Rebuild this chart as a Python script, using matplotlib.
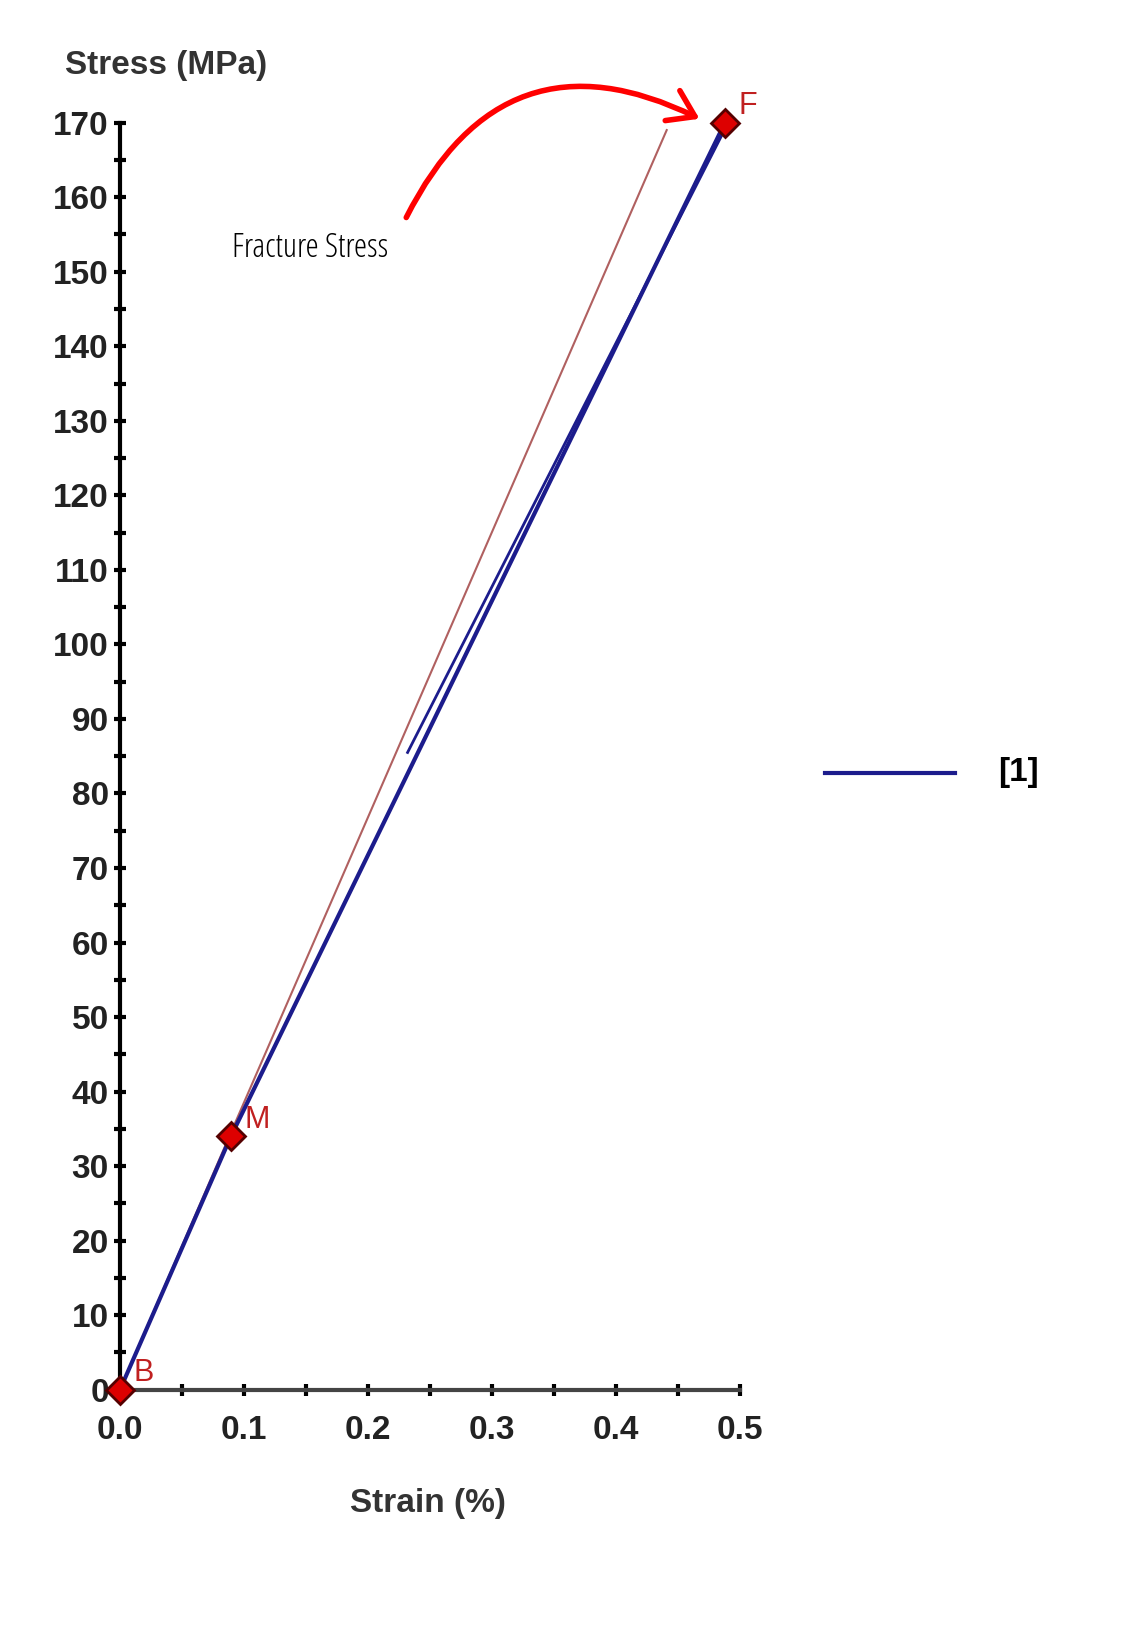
import matplotlib.pyplot as plt
from matplotlib.ticker import MultipleLocator
from matplotlib.patches import FancyArrowPatch

# main specimen curve [1]
lstStrainBlue = [0.0, 0.0895, 0.488]
lstStressBlue = [0.0, 34.0, 170.0]
# second trace of the blue curve (upper part)
lstStrainBlue2 = [0.232, 0.486]
lstStressBlue2 = [85.5, 168.5]
# reddish reference curve
lstStrainRed = [0.0, 0.0895, 0.441]
lstStressRed = [0.0, 34.5, 169.0]
# marked points
lstPtLabels = ['B', 'M', 'F']
lstPtStrain = [0.0, 0.0895, 0.488]
lstPtStress = [0.0, 34.0, 170.0]

strFont = 'Liberation Sans'

fig = plt.figure(figsize=(11.21, 16.35), dpi=100)
ax = fig.add_axes([0.107, 0.15, 0.553, 0.775])

ax.plot(lstStrainRed, lstStressRed, color='#b06060', lw=1.5)
ax.plot(lstStrainBlue, lstStressBlue, color='#1c1c8c', lw=3)
ax.plot(lstStrainBlue2, lstStressBlue2, color='#1c1c8c', lw=2)
ax.plot(lstPtStrain, lstPtStress, linestyle='none', marker='D', markersize=14,
        markerfacecolor='#dd0000', markeredgecolor='#550000', markeredgewidth=2, clip_on=False, zorder=5)
for strLbl, x, y in zip(lstPtLabels, lstPtStrain, lstPtStress):
   ax.annotate(strLbl, xy=(x, y), xytext=(10, 6), textcoords='offset points',
               color='#c02020', fontsize=22, family=strFont)

ax.set_xlim(0, 0.5)
ax.set_ylim(0, 170)
ax.xaxis.set_major_locator(MultipleLocator(0.1))
ax.xaxis.set_minor_locator(MultipleLocator(0.05))
ax.yaxis.set_major_locator(MultipleLocator(10))
ax.yaxis.set_minor_locator(MultipleLocator(5))
for s in ['top', 'right']:
   ax.spines[s].set_visible(False)
ax.spines['left'].set_linewidth(3)
ax.spines['bottom'].set_linewidth(3)
ax.spines['bottom'].set_color('#444444')
ax.tick_params(axis='y', which='both', length=9, width=3, labelsize=24, direction='inout')
ax.tick_params(axis='x', which='both', length=9, width=3, labelsize=24, direction='inout', pad=14)
ax.set_xticklabels(['%.1f' % v for v in ax.get_xticks()])
for t in ax.get_xticklabels() + ax.get_yticklabels():
   t.set_family(strFont)
   t.set_fontweight('bold')
   t.set_color('#222222')

fig.text(0.058, 0.955, 'Stress (MPa)', fontsize=24, family=strFont, fontweight='bold', color='#333333')
fig.text(0.382, 0.075, 'Strain (%)', ha='center', fontsize=24, family=strFont, fontweight='bold', color='#333333')

# legend
fig.add_artist(plt.Line2D([825/1121, 955/1121], [1-773/1635]*2, color='#1c1c8c', lw=3))
fig.text(998/1121, 1-773/1635, '[1]', fontsize=24, va='center', family=strFont, fontweight='bold')

# Fracture stress annotation
fig.text(0.207, 0.843, 'Fracture Stress', fontsize=24, family='Open Sans', stretch='condensed')
fig.add_artist(FancyArrowPatch((405/1121, 1-220/1635), (702/1121, 1-120/1635),
               connectionstyle='arc3,rad=-0.5', arrowstyle='->,head_length=18,head_width=12',
               color='red', lw=4, transform=fig.transFigure))

fig.savefig('out.png', dpi=100)
